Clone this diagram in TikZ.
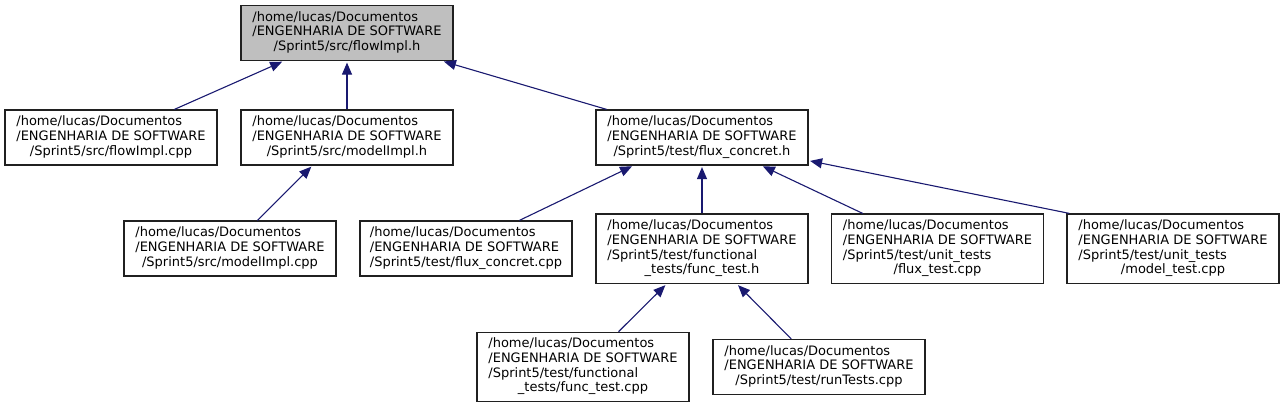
\documentclass[tikz,border=0pt]{standalone}
\usepackage{fontspec}
\setmainfont{DejaVu Sans}
\usetikzlibrary{arrows.meta,calc}
\definecolor{edgeblue}{HTML}{191970}
\definecolor{topfill}{HTML}{BFBFBF}
\definecolor{boxline}{HTML}{202020}
\newcommand{\threelbl}[3]{\begin{tabular}{@{}l@{}}#1\\#2\\\multicolumn{1}{@{}c@{}}{#3}\end{tabular}}
\newcommand{\fourlbl}[4]{\begin{tabular}{@{}l@{}}#1\\#2\\#3\\\multicolumn{1}{@{}c@{}}{#4}\end{tabular}}
\begin{document}
\begin{tikzpicture}[x=1pt,y=-1pt,
  file/.style={draw=boxline, line width=1.2pt, minimum width=212pt, minimum height=55pt, inner sep=0pt, font=\fontsize{13}{14.7}\selectfont},
  tall/.style={file, minimum height=69.5pt},
  edge/.style={draw=edgeblue, line width=1.1pt, shorten >=1.5pt, -{Triangle[length=12pt,width=10pt,fill=edgeblue]}}]
\useasboundingbox (0,0) rectangle (1285,408);
\node[file, fill=topfill] (A) at (347,33) {\threelbl{/home/lucas/Documentos}{/ENGENHARIA DE SOFTWARE}{/Sprint5/src/flowImpl.h}};
\node[file] (B) at (111,137.5) {\threelbl{/home/lucas/Documentos}{/ENGENHARIA DE SOFTWARE}{/Sprint5/src/flowImpl.cpp}};
\node[file] (C) at (347,137.5) {\threelbl{/home/lucas/Documentos}{/ENGENHARIA DE SOFTWARE}{/Sprint5/src/modelImpl.h}};
\node[file] (D) at (702,137.5) {\threelbl{/home/lucas/Documentos}{/ENGENHARIA DE SOFTWARE}{/Sprint5/test/flux\_concret.h}};
\node[file] (E) at (230,248.5) {\threelbl{/home/lucas/Documentos}{/ENGENHARIA DE SOFTWARE}{/Sprint5/src/modelImpl.cpp}};
\node[file] (F) at (466,248.5) {\threelbl{/home/lucas/Documentos}{/ENGENHARIA DE SOFTWARE}{/Sprint5/test/flux\_concret.cpp}};
\node[tall] (G) at (702,248.75) {\fourlbl{/home/lucas/Documentos}{/ENGENHARIA DE SOFTWARE}{/Sprint5/test/functional}{\_tests/func\_test.h}};
\node[tall] (H) at (937.5,248.75) {\fourlbl{/home/lucas/Documentos}{/ENGENHARIA DE SOFTWARE}{/Sprint5/test/unit\_tests}{/flux\_test.cpp}};
\node[tall] (I) at (1173,248.75) {\fourlbl{/home/lucas/Documentos}{/ENGENHARIA DE SOFTWARE}{/Sprint5/test/unit\_tests}{/model\_test.cpp}};
\node[tall] (J) at (583,367) {\fourlbl{/home/lucas/Documentos}{/ENGENHARIA DE SOFTWARE}{/Sprint5/test/functional}{\_tests/func\_test.cpp}};
\node[file] (K) at (819,367) {\threelbl{/home/lucas/Documentos}{/ENGENHARIA DE SOFTWARE}{/Sprint5/test/runTests.cpp}};
\draw[edge] (B) -- (A);
\draw[edge] (C) -- (A);
\draw[edge] (D) -- (A);
\draw[edge] ($(E.north west)+(134,0)$) -- ($(C.south west)+(72,0)$);
\draw[edge] ($(F.north west)+(160,0)$) -- ($(D.south west)+(38,0)$);
\draw[edge] (G) -- (D);
\draw[edge] (H) -- (D);
\draw[edge] ($(I.north west)+(3,0)$) -- ($(D.south east)+(0,-5)$);
\draw[edge] (J) -- (G);
\draw[edge] (K) -- (G);
\end{tikzpicture}
\end{document}
